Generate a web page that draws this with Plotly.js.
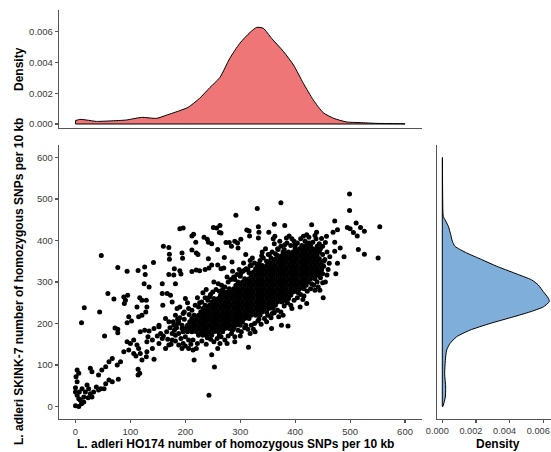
<!DOCTYPE html>
<html>
<head>
<meta charset="utf-8">
<script src="https://cdn.plot.ly/plotly-3.0.1.min.js"></script>
<style>html,body{margin:0;padding:0;background:#fff;}#chart{width:551px;height:452px;}</style>
</head>
<body>
<div id="chart"></div>
<script>
// ---------- DATA ----------
// Sparse points ([HO174, SKINK-7])
const sparsePoints = [
[47,364],[77,335],[94,326],[114,328],[126,336],[127,318],[142,347],[160,386],[170,383],[171,367],[171,355],[190,428],[196,430],[194,370],[195,357],[180,332],[190,327],[170,318],[179,317],[192,319],
[374,491],[331,477],[292,461],[215,415],[212,411],[219,396],[251,431],[257,430],[263,436],[262,419],[265,418],[234,408],[240,403],[242,396],[248,392],[212,377],[220,370],[223,366],[259,378],[242,356],[274,395],[280,395],[284,386],[290,398],[295,394],[301,403],[296,382],[312,425],[316,423],[317,411],[333,433],[334,420],[333,406],[352,420],[362,439],[381,436],[360,404],[363,410],[384,406],[389,411],[310,366],[322,358],[339,363],[351,366],[369,378],[381,390],[400,390],[415,410],[421,414],[285,348],[271,359],[259,341],[265,332],[270,334],[236,330],[243,334],[248,341],[212,325],[220,329],[226,327],[301,321],[308,329],[318,340],[289,311],
[499,512],[499,472],[472,447],[511,442],[519,431],[526,422],[495,431],[500,428],[506,419],[513,411],[554,433],[515,378],[526,367],[551,358],[489,361],[482,382],[477,345],[474,320],[458,317],[430,438],[439,420],[477,426],[469,420],[457,410],[472,396],[472,374],[463,361],[454,354],[448,330],
[59,272],[88,264],[95,268],[91,256],[89,248],[70,259],[16,238],[44,228],[11,202],[117,262],[121,256],[129,256],[112,240],[130,240],[128,228],[125,296],[134,288],[158,296],[167,272],[173,268],[182,296],[159,244],[176,252],[185,236],[158,272],[97,216],[102,206],[94,202],[121,220],[115,216],[53,170],[77,178],[77,186],[72,189],[118,180],[126,184],[134,182],[132,168],[143,188],[152,192],[155,176],[149,170],[140,160],[130,156],[94,156],[100,152],[106,160],[112,148],[97,136],[88,132],[115,140],[106,128],[110,122],[118,128],[130,132],[140,140],[143,114],[129,120],[121,112],[114,90],[117,80],[114,76],
[152,196],[164,212],[170,204],[179,196],[188,204],[194,188],[182,172],[176,160],[170,148],[164,140],[188,148],[194,140],[152,152],[158,164],
[67,116],[61,108],[55,96],[48,88],[42,76],[30,84],[27,92],[3,88],[6,80],[76,100],[82,108],[78,66],[67,60],[61,64],[1,72],[3,60],[0,45],[0,35],[3,27],[6,19],[0,2],[6,0],[11,7],[9,15],[15,23],[18,35],[24,43],[27,31],[30,23],[33,35],[38,47],[42,40],[46,43],[52,43],[21,52],[12,43],[7,35],[15,11],[23,21],[55,55],
[253,95],[216,112],[248,125],[315,143],[220,140],[214,136],[259,140],[263,152],[290,156],[318,176],[327,180],[357,188],[375,196],[387,194],[378,220],[409,240],[421,248],[243,27],
[451,262],[442,288],[445,280],[450,298]
];
// Moderately dense points around the edge of the main cloud
const fringePoints = [
[198,228],[206,236],[212,232],[218,244],[224,240],[230,252],[236,262],[241,256],[246,270],[250,276],[256,282],[262,278],[266,292],[272,288],[278,300],[283,306],[288,312],[294,318],[300,314],[305,326],[311,332],[316,322],[320,340],[326,346],[331,338],[336,352],[342,358],[348,350],[353,366],[358,372],[364,368],[368,380],[374,386],[380,378],[385,394],[392,388],[398,398],[404,394],[410,404],[418,398],[425,408],[432,396],[438,404],[444,392],[450,386],[207,222],[226,250],[244,264],[268,282],[290,306],[314,330],[334,344],[356,358],[378,372],[400,388],[422,394],[446,380],[260,296],[276,312],[298,330],[318,352],[340,372],[362,392],[204,250],[222,262],[238,282],[252,300],[286,326],[306,346],[346,380],[372,398],[394,404],[232,274],[190,240],[200,260],[182,220],[186,210],
[214,160],[222,152],[230,158],[238,150],[246,162],[252,156],[258,164],[265,168],[272,160],[278,170],[284,176],[290,168],[296,184],[302,180],[308,190],[314,186],[320,196],[326,200],[332,206],[338,198],[344,212],[350,220],[356,214],[362,226],[368,232],[374,228],[380,242],[386,250],[392,244],[398,256],[404,262],[410,270],[416,266],[422,278],[428,284],[434,292],[440,300],[446,310],[450,320],[448,340],[452,350],[450,366],[440,386],[426,394],[240,166],[262,172],[286,184],[310,196],[334,210],[358,224],[382,254],[406,274],[430,296],[448,330],[276,152],[300,170],[324,186],[348,204],[370,216],[394,236],[414,258],[436,280],[200,168],[206,160],[196,180],[194,196],[198,210],
[455,300],[460,330],[462,345],[458,372],[455,395],[448,405],[436,412],[444,318],[452,338],
[184,190],[188,176],[192,164],[196,152],[186,200],[180,184],[176,176],[190,214],[200,146],[206,140],[210,150],[178,204],[172,190],[166,180],[160,170],[168,162],[174,150],[182,158],[204,192],[196,224]
];
// Solid core of the cloud: one row of HO174 values per SKINK-7 level
const coreRowY = [172,180,188,196,204,212,220,228,236,244,252,260,268,276,284,292,300,308,316,324,332,340,348,356,364,372,380,388];
const coreRowX = [
[224,232,240,248],
[204,212,220,228,236,244,252,260,268],
[200,208,216,224,232,240,248,256,264,272,280,288],
[204,212,220,228,236,244,252,260,268,276,284,292,300],
[208,216,224,232,240,248,256,264,272,280,288,296,304],
[212,220,228,236,244,252,260,268,276,284,292,300,308,316],
[216,224,232,240,248,256,264,272,280,288,296,304,312,320,328,336],
[228,236,244,252,260,268,276,284,292,300,308,316,324,332,340,348],
[232,240,248,256,264,272,280,288,296,304,312,320,328,336,344,352,360],
[236,244,252,260,268,276,284,292,300,308,316,324,332,340,348,356,364],
[248,256,264,272,280,288,296,304,312,320,328,336,344,352,360,368,376],
[252,260,268,276,284,292,300,308,316,324,332,340,348,356,364,372,380,388],
[264,272,280,288,296,304,312,320,328,336,344,352,360,368,376,384,392],
[268,276,284,292,300,308,316,324,332,340,348,356,364,372,380,388,396,404],
[280,288,296,304,312,320,328,336,344,352,360,368,376,384,392,400,408,416],
[292,300,308,316,324,332,340,348,356,364,372,380,388,396,404,412,420],
[296,304,312,320,328,336,344,352,360,368,376,384,392,400,408,416,424],
[308,316,324,332,340,348,356,364,372,380,388,396,404,412,420,428,436],
[320,328,336,344,352,360,368,376,384,392,400,408,416,424,432,440],
[324,332,340,348,356,364,372,380,388,396,404,412,420,428,436,444],
[328,336,344,352,360,368,376,384,392,400,408,416,424,432,440],
[340,348,356,364,372,380,388,396,404,412,420,428,436,444],
[352,360,368,376,384,392,400,408,416,424,432,440,448],
[364,372,380,388,396,404,412,420,428,436,444],
[368,376,384,392,400,408,416,424,432,440],
[380,388,396,404,412,420,428,436,444],
[400,408,416,424,432,440],
[412,420,428]
];
// Marginal density of HO174 (top)
const topDensX = [0,8,20,38,63,93,120,148,166,190,205,226,245,263,281,299,318,330,342,357,379,397,415,433,451,470,494,518,549,591,600];
const topDensY = [0.00022,0.0003,0.00026,0.00017,0.0002,0.00026,0.00043,0.00037,0.00058,0.00087,0.00108,0.00167,0.00238,0.00303,0.00427,0.00524,0.00596,0.00628,0.00622,0.00557,0.0047,0.00383,0.00264,0.00156,0.00074,0.00037,0.00013,0.00009,0.00004,0.00002,0.00001];
// Marginal density of SKINK-7 (right)
const rightDensV = [600,514,458,450,434,414,398,386,370,354,338,321,305,293,277,261,253,240,228,216,200,184,168,152,136,111,79,47,23,3,0];
const rightDensD = [0.00001,0.00002,0.00006,0.00016,0.00036,0.0005,0.0006,0.00075,0.00145,0.00234,0.00323,0.00432,0.00531,0.0057,0.006,0.0063,0.00636,0.006,0.00521,0.00422,0.00283,0.00164,0.00085,0.00046,0.00026,0.00018,0.00014,0.0002,0.00018,0.00006,0.00004];
// Tick labels
const mainTicks = [0,100,200,300,400,500,600];
const densTicks = [0,0.002,0.004,0.006];
const densTickText = ['0.000','0.002','0.004','0.006'];
const xTitle = 'L. adleri HO174 number of homozygous SNPs per 10 kb';
const yTitle = 'L. adleri SKINK-7 number of homozygous SNPs per 10 kb';

// ---------- BUILD ----------
const sx = [], sy = [];
coreRowY.forEach((y, i) => coreRowX[i].forEach(x => { sx.push(x); sy.push(y); }));
fringePoints.concat(sparsePoints).forEach(p => { sx.push(p[0]); sy.push(p[1]); });

const W = 551, H = 452;
const px = v => v / W, py = v => 1 - v / H;
const FONT = 'Liberation Sans, Arial, sans-serif';
const AX = '#555555';
const tickFont = {family: FONT, size: 9.5, color: '#3a3a3a'};

const nT = topDensX.length, nR = rightDensV.length;
const traces = [
  {type: 'scatter', mode: 'markers', x: sx, y: sy, xaxis: 'x', yaxis: 'y',
   marker: {color: '#000', size: 5, line: {width: 0}}, hoverinfo: 'skip'},
  // top density
  {type: 'scatter', mode: 'lines', x: topDensX, y: topDensY, xaxis: 'x2', yaxis: 'y2',
   fill: 'tozeroy', fillcolor: '#EE7676', line: {color: '#000', width: 1, shape: 'spline', smoothing: 0.6}},
  {type: 'scatter', mode: 'lines', x: [topDensX[0], topDensX[0], topDensX[nT-1], topDensX[nT-1]],
   y: [topDensY[0], 0, 0, topDensY[nT-1]], xaxis: 'x2', yaxis: 'y2', line: {color: '#000', width: 1}},
  // right density
  {type: 'scatter', mode: 'lines', x: rightDensD, y: rightDensV, xaxis: 'x3', yaxis: 'y3',
   fill: 'tozerox', fillcolor: '#80AEDA', line: {color: '#000', width: 1, shape: 'spline', smoothing: 0.6}},
  {type: 'scatter', mode: 'lines', x: [rightDensD[0], 0, 0, rightDensD[nR-1]],
   y: [rightDensV[0], rightDensV[0], rightDensV[nR-1], rightDensV[nR-1]], xaxis: 'x3', yaxis: 'y3', line: {color: '#000', width: 1}}
];

const baseAxis = {showgrid: false, zeroline: false, showline: true, linecolor: AX, linewidth: 1.2,
  ticks: 'outside', ticklen: 3, tickcolor: AX, tickwidth: 1.1, tickfont: tickFont, fixedrange: true,
  ticklabeloverflow: 'allow'};

const mainX = [px(59), px(421.5)];
const mainY = [py(419), py(145)];

const layout = {
  width: W, height: H, margin: {l: 0, r: 0, t: 0, b: 0},
  paper_bgcolor: '#fff', plot_bgcolor: 'rgba(0,0,0,0)', showlegend: false,
  xaxis: Object.assign({}, baseAxis, {domain: mainX, range: [-30, 630], tickvals: mainTicks, anchor: 'y'}),
  yaxis: Object.assign({}, baseAxis, {domain: mainY, range: [-30, 630], tickvals: mainTicks, anchor: 'x'}),
  xaxis2: Object.assign({}, baseAxis, {domain: mainX, range: [-30, 630], anchor: 'y2', ticks: '', showticklabels: false}),
  yaxis2: Object.assign({}, baseAxis, {domain: [py(128), py(10)], range: [-0.00026, 0.00741], tickvals: densTicks, ticktext: densTickText, anchor: 'x2'}),
  xaxis3: Object.assign({}, baseAxis, {domain: [px(437), 1], range: [-0.000315, 0.00646], tickvals: densTicks, ticktext: densTickText, anchor: 'y3', ticklabelshift: -5, tickfont: {family: FONT, size: 9.2, color: '#3a3a3a'}}),
  yaxis3: Object.assign({}, baseAxis, {domain: mainY, range: [-30, 630], anchor: 'x3', ticks: '', showticklabels: false}),
  annotations: [
    {text: '<b>' + xTitle + '</b>', xref: 'paper', yref: 'paper', x: px(235.5), y: py(444), xanchor: 'center', yanchor: 'middle', showarrow: false, font: {family: FONT, size: 12, color: '#000'}},
    {text: '<b>' + yTitle + '</b>', xref: 'paper', yref: 'paper', x: px(19), y: py(282), xanchor: 'center', yanchor: 'middle', textangle: -90, showarrow: false, font: {family: FONT, size: 12, color: '#000'}},
    {text: '<b>Density</b>', xref: 'paper', yref: 'paper', x: px(19), y: py(69), xanchor: 'center', yanchor: 'middle', textangle: -90, showarrow: false, font: {family: FONT, size: 12, color: '#000'}},
    {text: '<b>Density</b>', xref: 'paper', yref: 'paper', x: px(498), y: py(444), xanchor: 'center', yanchor: 'middle', showarrow: false, font: {family: FONT, size: 12, color: '#000'}}
  ]
};

Plotly.newPlot('chart', traces, layout, {displayModeBar: false, staticPlot: true});
</script>
</body>
</html>
